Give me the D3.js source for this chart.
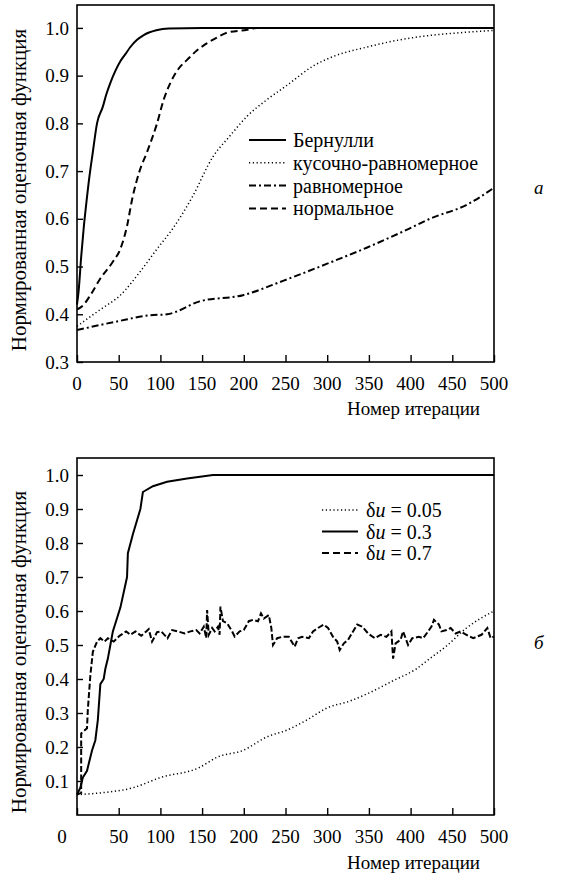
<!DOCTYPE html>
<html><head><meta charset="utf-8">
<script src="https://cdn.jsdelivr.net/npm/d3@7"></script>
<style>
html,body{margin:0;padding:0;background:#fff;}
</style></head>
<body>
<svg id="c" width="568" height="876" font-family="'Liberation Serif','DejaVu Serif','Times New Roman',serif"></svg>
<script>
// ---------- Data: panel a ----------
const xTicks = [0,50,100,150,200,250,300,350,400,450,500];
const yTicksA = [0.3,0.4,0.5,0.6,0.7,0.8,0.9,1.0];
const yTicksB = [0.1,0.2,0.3,0.4,0.5,0.6,0.7,0.8,0.9,1.0];
const yLabel = "Нормированная оценочная функция";
const xLabel = "Номер итерации";

const bernX = [0,2,5,8,11,15,19,24,31,35,40,46,52,58,64,72,80,95,110,150,500];
const bernY = [0.42,0.45,0.52,0.58,0.63,0.69,0.74,0.80,0.835,0.86,0.885,0.91,0.93,0.945,0.96,0.975,0.985,0.995,0.999,1,1];
const piecX = [0,28,52,76,96,115,138,163,183,204,228,252,283,307,348,387,427,460,500];
const piecY = [0.375,0.41,0.44,0.49,0.537,0.58,0.645,0.73,0.773,0.815,0.85,0.88,0.92,0.94,0.96,0.975,0.985,0.99,0.995];
const unifX = [0,48,88,108,147,199,247,300,348,399,423,468,500];
const unifY = [0.367,0.385,0.398,0.40,0.427,0.44,0.47,0.506,0.54,0.58,0.60,0.63,0.665];
const normX = [0,8,16,28,43,52,60,66,75,84,96,104,112,122,132,144,156,168,180,204,216,500];
const normY = [0.41,0.42,0.44,0.475,0.51,0.537,0.585,0.64,0.70,0.74,0.80,0.85,0.885,0.915,0.933,0.953,0.968,0.98,0.99,0.996,1,1];
const legendA = ["Бернулли","кусочно-равномерное","равномерное","нормальное"];

// ---------- Data: panel б ----------
const du005X = [0,28,67,100,147,168,199,228,252,276,300,327,351,379,407,423,443,467,500];
const du005Y = [0.06,0.065,0.08,0.11,0.14,0.17,0.19,0.23,0.25,0.28,0.315,0.335,0.36,0.395,0.43,0.46,0.497,0.55,0.60];
const du03X = [0,4,7,12,18,22,25,28,32,34,37,40,43,52,60,61,67,76,79,91,108,132,163,500];
const du03Y = [0.06,0.08,0.11,0.13,0.19,0.22,0.28,0.385,0.40,0.43,0.46,0.50,0.54,0.61,0.70,0.77,0.826,0.90,0.95,0.967,0.98,0.99,1.0,1.0];
const du07X = [0,5,5,12,13,16,19,24,28,33,37,44,51,59,64,70,77,83,86,90,96,101,108.5,114,121,129,136,143,147,152,155,156,158,162,165,169,171,172,175,180,186,189,195,200,206,211,217,220.6,224,230,233,235,240,246,254,261,265,270,278,283,289,296,301,307,312,315,320,325,331,336,342,349,357,364,371,377,379,382,388,391,397,402,410,415,421,425,428,434,437,443,448,454,460,467,475,485,492,496,500];
const du07Y = [0.06,0.065,0.24,0.255,0.31,0.41,0.48,0.51,0.52,0.51,0.52,0.51,0.527,0.54,0.53,0.54,0.527,0.54,0.547,0.51,0.538,0.54,0.52,0.544,0.54,0.534,0.54,0.544,0.534,0.554,0.52,0.603,0.53,0.55,0.54,0.554,0.53,0.613,0.57,0.564,0.54,0.525,0.54,0.544,0.57,0.574,0.57,0.593,0.578,0.588,0.55,0.50,0.52,0.524,0.524,0.495,0.52,0.524,0.52,0.54,0.55,0.56,0.55,0.524,0.51,0.485,0.505,0.515,0.54,0.56,0.554,0.534,0.52,0.53,0.524,0.54,0.46,0.505,0.515,0.54,0.50,0.52,0.524,0.52,0.54,0.554,0.574,0.56,0.54,0.544,0.55,0.534,0.54,0.53,0.52,0.53,0.55,0.52,0.525];
const legendB = ["0.05","0.3","0.7"];

// ---------- Drawing ----------
const svg = d3.select("#c");
const FS = 19;
const zip = (xs, ys) => xs.map((x,i)=>[x, ys[i]]);

function panel(opt){
  const x = d3.scaleLinear().domain([0,500]).range([77,494]);
  const y = d3.scaleLinear().domain(opt.yDomain).range([opt.bottom, opt.top]);
  const g = svg.append("g");
  g.append("rect").attr("x",77).attr("y",opt.top).attr("width",417).attr("height",opt.bottom-opt.top)
    .attr("fill","none").attr("stroke","#000").attr("stroke-width",1.6);
  const xa = d3.axisBottom(x).tickValues(xTicks).tickSize(-7).tickFormat("");
  g.append("g").attr("transform",`translate(0,${opt.bottom})`).call(xa)
    .call(s=>{s.select(".domain").remove(); s.selectAll("line").attr("stroke-width",1.4);});
  g.selectAll(".xl").data(xTicks).join("text").attr("class","xl")
    .attr("x",d=>x(d) + (d===0 ? opt.zeroDx : 0)).attr("y",opt.bottom+28)
    .attr("text-anchor","middle").attr("font-size",FS).text(d=>d);
  const ya = d3.axisLeft(y).tickValues(opt.yTicks).tickSize(-6).tickFormat("");
  g.append("g").attr("transform","translate(77,0)").call(ya)
    .call(s=>{s.select(".domain").remove(); s.selectAll("line").attr("stroke-width",1.4);});
  g.selectAll(".yl").data(opt.yTicks).join("text").attr("class","yl")
    .attr("x",69).attr("y",d=>y(d)).attr("dy","0.35em")
    .attr("text-anchor","end").attr("font-size",FS).text(d=>d3.format(".1f")(d));
  g.append("text").attr("transform",`translate(${26},${opt.yLabelC}) rotate(-90)`)
    .attr("text-anchor","middle").attr("font-size",21).text(yLabel);
  g.append("text").attr("x",480).attr("y",opt.xLabelY).attr("text-anchor","end")
    .attr("font-size",FS).text(xLabel);
  g.append("text").attr("x",534).attr("y",opt.letterY).attr("font-size",FS)
    .attr("font-style","italic").text(opt.letter);
  return {g,x,y};
}

const line = (x,y,curve) => d3.line().x(d=>x(d[0])).y(d=>y(d[1])).curve(curve||d3.curveLinear);

const SOLID = {dash:null, w:2};
const DOT = {dash:"1.2,2.6", w:1.5};
const DASHDOT = {dash:"7,3,2,3", w:2};
const DASH = {dash:"7,4", w:2};

// Panel a
const A = panel({yDomain:[0.3,1.048], top:5, bottom:362, yTicks:yTicksA, zeroDx:0,
  yLabelC:190, xLabelY:415, letter:"a", letterY:194});
const seriesA = [
  {d:zip(bernX,bernY), s:SOLID},
  {d:zip(piecX,piecY), s:DOT},
  {d:zip(unifX,unifY), s:DASHDOT},
  {d:zip(normX,normY), s:DASH}
];
seriesA.forEach(o=>{
  A.g.append("path").datum(o.d).attr("d",line(A.x,A.y,d3.curveMonotoneX))
    .attr("fill","none").attr("stroke","#000").attr("stroke-width",o.s.w)
    .attr("stroke-dasharray",o.s.dash);
});
legendA.forEach((t,i)=>{
  const s = seriesA[i].s; const yy = 140 + i*22.8;
  A.g.append("line").attr("x1",249).attr("x2",286).attr("y1",yy).attr("y2",yy)
    .attr("stroke","#000").attr("stroke-width",s.w).attr("stroke-dasharray",s.dash);
  A.g.append("text").attr("x",293).attr("y",yy).attr("dy","0.35em").attr("font-size",20).text(t);
});

// Panel б
const B = panel({yDomain:[0,1.05], top:458, bottom:815, yTicks:yTicksB, zeroDx:-15,
  yLabelC:652, xLabelY:869, letter:"б", letterY:649});
const seriesB = [
  {d:zip(du005X,du005Y), s:DOT, c:d3.curveMonotoneX},
  {d:zip(du03X,du03Y), s:SOLID, c:d3.curveLinear},
  {d:zip(du07X,du07Y), s:{dash:"6,2.5",w:2}, c:d3.curveLinear}
];
seriesB.forEach(o=>{
  B.g.append("path").datum(o.d).attr("d",line(B.x,B.y,o.c))
    .attr("fill","none").attr("stroke","#000").attr("stroke-width",o.s.w)
    .attr("stroke-dasharray",o.s.dash);
});
legendB.forEach((t,i)=>{
  const s = [DOT,SOLID,DASH][i]; const yy = 510 + i*21.5;
  B.g.append("line").attr("x1",322).attr("x2",358).attr("y1",yy).attr("y2",yy)
    .attr("stroke","#000").attr("stroke-width",s.w).attr("stroke-dasharray",s.dash);
  const tx = B.g.append("text").attr("x",366).attr("y",yy).attr("dy","0.35em").attr("font-size",20);
  tx.append("tspan").text("δ");
  tx.append("tspan").attr("font-style","italic").text("u");
  tx.append("tspan").text(" = " + t);
});
</script>
</body></html>
